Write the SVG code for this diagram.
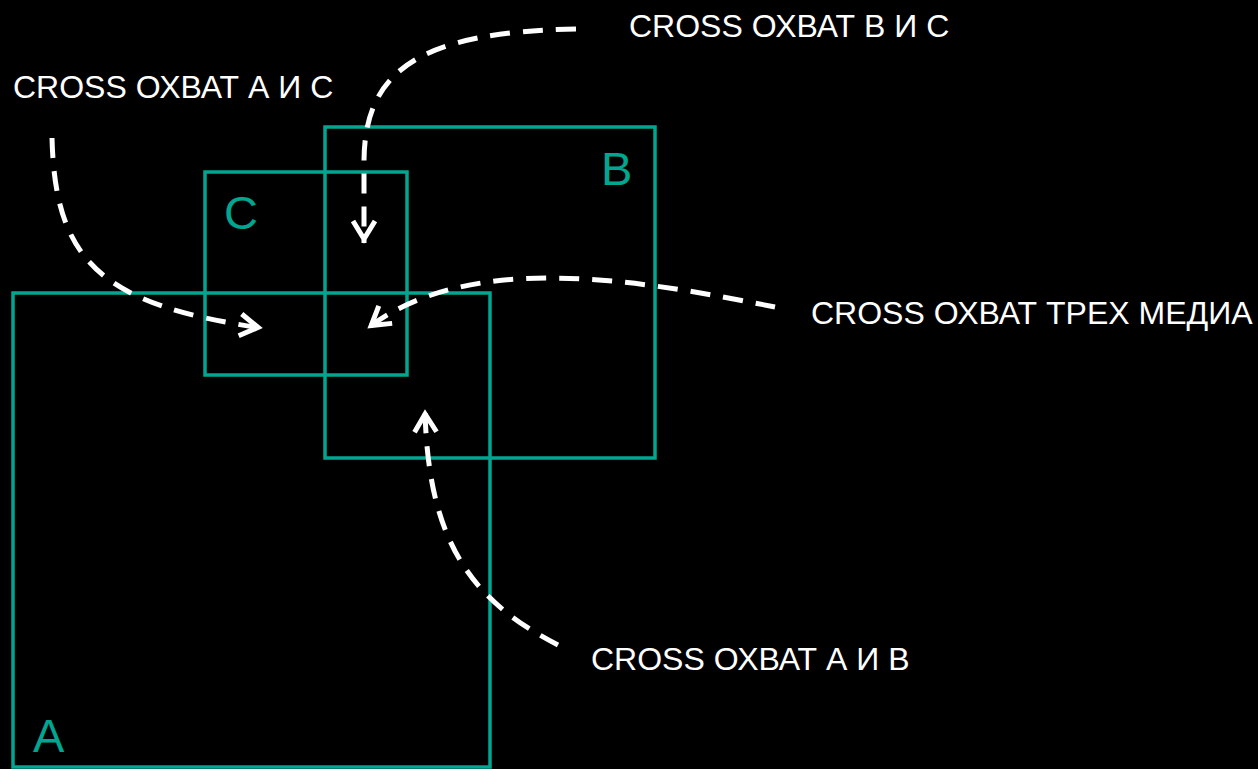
<svg xmlns="http://www.w3.org/2000/svg" width="1258" height="769" viewBox="0 0 1258 769">
  <style>
    .box { fill: none; stroke: #00a690; stroke-width: 3.5; }
    .big { font-family: "Liberation Sans", Arial, sans-serif; font-size: 47px; fill: #00a690; }
    .lbl { font-family: "Liberation Sans", Arial, sans-serif; font-size: 32px; fill: #ffffff; }
    .con { fill: none; stroke: #ffffff; stroke-width: 5; stroke-dasharray: 20 13; marker-end: url(#ah); }
  </style>
  <defs>
    <marker id="ah" markerUnits="userSpaceOnUse" viewBox="-25 -15 32 30" markerWidth="32" markerHeight="30" refX="4" refY="0" orient="auto">
      <path d="M-18,-11 L0,0 L-18,11" fill="none" stroke="#ffffff" stroke-width="5"/>
    </marker>
  </defs>
  <rect width="1258" height="769" fill="#000000"/>
  <g id="node-A">
    <rect class="box" x="13" y="293" width="477" height="474"/>
    <text class="big" x="33" y="752">A</text>
  </g>
  <g id="node-C">
    <rect class="box" x="205" y="172" width="202" height="203"/>
    <text class="big" x="224" y="229">C</text>
  </g>
  <g id="node-B">
    <rect class="box" x="325" y="127" width="330" height="331"/>
    <text class="big" x="601" y="185">B</text>
  </g>
  <g id="connectors">
    <path class="con" d="M52,138 C55,260 100,305 262,328"/>
    <path class="con" d="M576,29 C420,32 365,70 364,160 L364,243"/>
    <path class="con" d="M775,307 C640,280 470,250 368,328"/>
    <path class="con" d="M558,645 C470,600 428,540 425,410"/>
  </g>
  <g id="labels">
    <text class="lbl" x="629" y="37">CROSS ОХВАТ В И С</text>
    <text class="lbl" x="13" y="98">CROSS ОХВАТ А И С</text>
    <text class="lbl" x="811" y="324">CROSS ОХВАТ ТРЕХ МЕДИА</text>
    <text class="lbl" x="591" y="670">CROSS ОХВАТ А И В</text>
  </g>
</svg>
